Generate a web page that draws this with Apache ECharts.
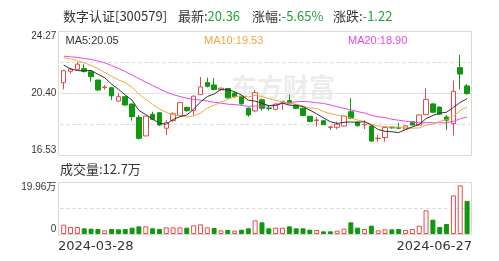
<!DOCTYPE html>
<html><head><meta charset="utf-8">
<script src="https://cdn.jsdelivr.net/npm/echarts@6/dist/echarts.min.js"></script>
<style>html,body{margin:0;padding:0;background:#fff}#c{width:499px;height:261px}</style>
</head><body><div id="c"></div><script>
const dates = ['2024-03-28','2024-03-29','2024-04-01','2024-04-02','2024-04-03','2024-04-08','2024-04-09','2024-04-10','2024-04-11','2024-04-12',
'2024-04-15','2024-04-16','2024-04-17','2024-04-18','2024-04-19','2024-04-22','2024-04-23','2024-04-24','2024-04-25','2024-04-26',
'2024-04-29','2024-04-30','2024-05-06','2024-05-07','2024-05-08','2024-05-09','2024-05-10','2024-05-13','2024-05-14','2024-05-15',
'2024-05-16','2024-05-17','2024-05-20','2024-05-21','2024-05-22','2024-05-23','2024-05-24','2024-05-27','2024-05-28','2024-05-29',
'2024-05-30','2024-05-31','2024-06-03','2024-06-04','2024-06-05','2024-06-06','2024-06-07','2024-06-11','2024-06-12','2024-06-13',
'2024-06-14','2024-06-17','2024-06-18','2024-06-19','2024-06-20','2024-06-21','2024-06-24','2024-06-25','2024-06-26','2024-06-27'];
const opens = [21.04,21.76,21.88,21.92,21.73,21.21,20.74,20.73,19.90,20.17,
19.71,18.88,17.72,19.07,19.17,18.20,18.68,19.00,19.50,19.30,
20.30,21.05,20.90,20.60,20.68,20.40,20.20,19.45,19.28,19.98,
19.47,19.38,19.83,19.93,19.65,19.45,18.95,18.68,18.67,18.25,
18.26,18.34,19.23,18.58,18.42,18.34,17.55,17.62,18.26,18.24,
18.15,18.60,18.40,19.05,19.72,19.52,18.90,18.50,21.98,20.84];
const closes = [21.79,21.90,22.20,21.75,21.42,20.59,20.77,20.22,20.17,19.65,
18.92,17.57,18.96,18.76,18.40,18.55,19.10,19.80,19.30,20.20,
20.78,20.82,20.62,20.70,20.10,20.18,19.73,19.03,20.42,19.45,
19.43,19.70,19.87,19.73,19.44,19.00,18.62,18.72,18.42,18.28,
18.45,18.96,18.82,18.36,18.45,17.40,17.58,18.25,18.22,18.20,
18.35,18.40,19.03,20.00,19.20,19.08,18.70,20.50,21.58,20.36];
const lows = [20.63,21.62,21.85,21.67,21.11,20.55,20.60,19.96,19.88,19.60,
18.67,17.50,17.70,18.70,18.35,17.78,18.60,18.95,19.22,19.00,
20.28,20.75,20.58,20.55,20.05,20.10,19.65,18.92,19.20,19.30,
19.30,19.32,19.34,19.70,19.40,18.96,18.60,18.30,18.40,18.09,
18.13,18.32,18.80,18.30,18.15,17.36,17.36,17.36,18.18,18.17,
18.12,18.38,18.38,19.03,19.15,19.03,18.09,17.75,20.63,20.30];
const highs = [21.85,21.98,22.35,22.19,21.76,21.22,20.90,20.78,20.38,20.20,
19.75,19.03,18.98,19.23,19.20,18.70,19.20,19.85,19.55,20.25,
21.40,21.36,21.35,20.74,20.70,20.45,20.22,19.50,20.60,20.05,
19.60,19.75,19.92,20.30,19.68,19.48,18.97,18.88,18.70,18.34,
18.61,18.98,20.07,18.62,18.70,18.36,17.78,18.30,18.30,18.55,
18.38,18.62,19.05,20.69,19.75,19.55,19.03,21.17,22.77,20.96];
const volumes = [3.58,2.69,2.69,2.18,2.05,1.92,1.41,1.92,1.79,1.92,
2.43,2.94,2.94,2.18,1.92,2.56,2.56,2.56,2.43,3.33,
3.71,2.56,2.30,1.41,1.54,1.28,1.66,2.18,5.25,4.48,
2.18,2.43,2.43,2.94,2.18,2.18,1.66,1.54,1.02,1.02,
1.28,2.05,4.48,2.43,1.92,3.20,1.41,1.79,1.79,1.92,
1.54,1.92,3.20,9.09,5.50,2.69,3.84,14.84,18.68,12.70];
const ma5 = [22.14,21.90,21.80,21.78,21.81,21.57,21.35,20.95,20.63,20.28,
19.95,19.31,19.05,18.77,18.52,18.45,18.75,18.92,19.03,19.39,
19.84,20.18,20.34,20.62,20.60,20.48,20.27,19.95,19.89,19.76,
19.61,19.61,19.77,19.64,19.63,19.55,19.33,19.10,18.84,18.61,
18.50,18.57,18.59,18.57,18.61,18.40,18.12,18.01,17.98,17.93,
18.12,18.28,18.44,18.80,19.00,19.14,19.20,19.50,19.81,20.05];
const ma10 = [22.60,22.52,22.42,22.28,22.12,21.92,21.68,21.44,21.22,21.05,
20.76,20.33,20.00,19.70,19.40,19.20,19.03,18.99,18.90,18.96,
19.14,19.47,19.63,19.83,20.00,20.16,20.22,20.15,20.26,20.18,
20.05,19.94,19.86,19.76,19.70,19.58,19.47,19.44,19.24,19.12,
19.02,18.95,18.84,18.71,18.61,18.45,18.34,18.30,18.28,18.27,
18.26,18.20,18.22,18.39,18.46,18.63,18.74,18.97,19.30,19.53];
const ma20 = [22.70,22.66,22.62,22.56,22.49,22.40,22.28,22.12,21.94,21.74,
21.52,21.30,21.08,20.87,20.66,20.46,20.30,20.18,20.08,20.00,
19.95,19.90,19.82,19.77,19.70,19.68,19.63,19.57,19.58,19.57,
19.60,19.70,19.75,19.80,19.85,19.87,19.85,19.79,19.75,19.65,
19.54,19.44,19.35,19.24,19.15,19.01,18.91,18.87,18.76,18.70,
18.64,18.58,18.53,18.55,18.54,18.54,18.54,18.63,18.79,18.90];
const priceTicks = [16.53, 20.40, 24.27];
const volTicks = [0, 19.96];
const volTickLabels = ['0', '19.96万'];
const header = {name: '数字认证[300579]', last: '20.36', pct: '-5.65%', chg: '-1.22'};
const legendTexts = ['MA5:20.05', 'MA10:19.53', 'MA20:18.90'];
const volText = '成交量:12.7万';

const RED = '#e94848', GREEN = '#0e990e';
const C5 = '#333333', C10 = '#f3a640', C20 = '#e448e4';
const NUMF = "'Liberation Sans','Noto Sans CJK SC',sans-serif";
const CJK = "'Noto Sans CJK SC',sans-serif";

const chart = echarts.init(document.getElementById('c'));
const candleData = dates.map((d, i) => [opens[i], closes[i], lows[i], highs[i]]);
const volData = volumes.map((v, i) => {
  const prev = i > 0 ? closes[i - 1] : opens[i];
  const up = closes[i] >= prev;
  return {value: v, itemStyle: up ? {color: '#fff', borderColor: RED, borderWidth: 1} : {color: GREEN, borderColor: GREEN, borderWidth: 1}};
});
const hiddenCat = (g) => ({type: 'category', gridIndex: g, data: dates, axisLine: {show: false}, axisTick: {show: false}, axisLabel: {show: false}, splitLine: {show: false}});
const dash = {color: '#d6d6d6', type: [3, 3], width: 1};

const option = {
  animation: false,
  grid: [
    {left: 60.3, width: 410.2, top: 31, height: 124},
    {left: 60.3, width: 410.2, top: 182, height: 52},
    {left: 58, width: 414, top: 182, height: 52}
  ],
  xAxis: [
    hiddenCat(0),
    hiddenCat(1),
    {type: 'category', gridIndex: 2, data: dates, boundaryGap: false, axisLine: {show: false}, axisTick: {show: false}, splitLine: {show: false},
     axisLabel: {show: true, interval: (i) => i === 0 || i === dates.length - 1, alignMinLabel: 'left', alignMaxLabel: 'right', margin: 6,
       fontSize: 13, fontFamily: "'DejaVu Sans',sans-serif", color: '#333'}}
  ],
  yAxis: [
    {type: 'value', gridIndex: 0, min: 16.53, max: 24.27, interval: 1.935, axisLine: {show: false}, axisTick: {show: false},
     splitLine: {show: true, lineStyle: dash},
     axisLabel: {margin: 4, fontSize: 10, color: '#333', fontFamily: NUMF, verticalAlignMinLabel: 'bottom', verticalAlignMaxLabel: 'top',
       formatter: (v) => priceTicks.some(t => Math.abs(t - v) < 0.005) ? v.toFixed(2) : ''}},
    {type: 'value', gridIndex: 0, min: 16.53, max: 24.27, interval: 3.87, axisLine: {show: false}, axisTick: {show: false}, axisLabel: {show: false},
     splitLine: {show: true, lineStyle: {color: '#e3e3e3', width: 1}}},
    {type: 'value', gridIndex: 1, min: volTicks[0], max: volTicks[1], interval: 9.98, axisLine: {show: false}, axisTick: {show: false},
     splitLine: {show: true, lineStyle: dash},
     axisLabel: {margin: 4, fontSize: 10, color: '#333', fontFamily: NUMF, verticalAlignMinLabel: 'bottom', verticalAlignMaxLabel: 'top',
       formatter: (v) => { const k = volTicks.findIndex(t => Math.abs(t - v) < 0.005); return k >= 0 ? volTickLabels[k] : ''; }}},
    {type: 'value', gridIndex: 2, show: false}
  ],
  graphic: [
    {type: 'text', z: 0, x: 283, y: 87, style: {text: '东方财富', fill: 'rgba(170,170,170,0.22)', font: "bold 26px 'Noto Sans CJK SC'", textAlign: 'center', textVerticalAlign: 'middle'}},
    {type: 'rect', z: 1, shape: {x: 58.5, y: 31.5, width: 413, height: 124}, style: {fill: 'none', stroke: '#d9d9d9', lineWidth: 1}},
    {type: 'rect', z: 1, shape: {x: 58.5, y: 182.5, width: 413, height: 52}, style: {fill: 'none', stroke: '#d9d9d9', lineWidth: 1}},
    {type: 'text', x: 63, y: 16, style: {text: header.name, fill: '#333', font: "13px " + CJK, textVerticalAlign: 'middle'}},
    {type: 'text', x: 178, y: 16, style: {text: '{k|最新:}{v|' + header.last + '}', textVerticalAlign: 'middle',
      rich: {k: {fill: '#333', font: "13px " + CJK}, v: {fill: '#22a03c', font: "13px " + CJK}}}},
    {type: 'text', x: 252, y: 16, style: {text: '{k|涨幅:}{v|' + header.pct + '}', textVerticalAlign: 'middle',
      rich: {k: {fill: '#333', font: "13px " + CJK}, v: {fill: '#22a03c', font: "13px " + CJK}}}},
    {type: 'text', x: 333, y: 16, style: {text: '{k|涨跌:}{v|' + header.chg + '}', textVerticalAlign: 'middle',
      rich: {k: {fill: '#333', font: "13px " + CJK}, v: {fill: '#22a03c', font: "13px " + CJK}}}},
    {type: 'text', x: 65.5, y: 41, style: {text: legendTexts[0], fill: C5, font: "11px " + NUMF, textVerticalAlign: 'middle'}},
    {type: 'text', x: 204, y: 41, style: {text: legendTexts[1], fill: C10, font: "11px " + NUMF, textVerticalAlign: 'middle'}},
    {type: 'text', x: 348, y: 41, style: {text: legendTexts[2], fill: C20, font: "11px " + NUMF, textVerticalAlign: 'middle'}},
    {type: 'text', x: 60, y: 169, style: {text: volText, fill: '#333', font: "13px " + CJK, textVerticalAlign: 'middle'}}
  ],
  series: [
    {type: 'candlestick', xAxisIndex: 0, yAxisIndex: 0, data: candleData, barWidth: 5,
     itemStyle: {color: '#fff', color0: GREEN, borderColor: RED, borderColor0: GREEN, borderWidth: 1}},
    {type: 'line', xAxisIndex: 0, yAxisIndex: 0, data: ma20, symbol: 'none', lineStyle: {width: 1, color: C20}, itemStyle: {color: C20}},
    {type: 'line', xAxisIndex: 0, yAxisIndex: 0, data: ma10, symbol: 'none', lineStyle: {width: 1, color: C10}, itemStyle: {color: C10}},
    {type: 'line', xAxisIndex: 0, yAxisIndex: 0, data: ma5, symbol: 'none', lineStyle: {width: 1, color: C5}, itemStyle: {color: C5}},
    {type: 'bar', xAxisIndex: 1, yAxisIndex: 2, data: volData, barWidth: 5}
  ]
};
chart.setOption(option);
</script></body></html>
